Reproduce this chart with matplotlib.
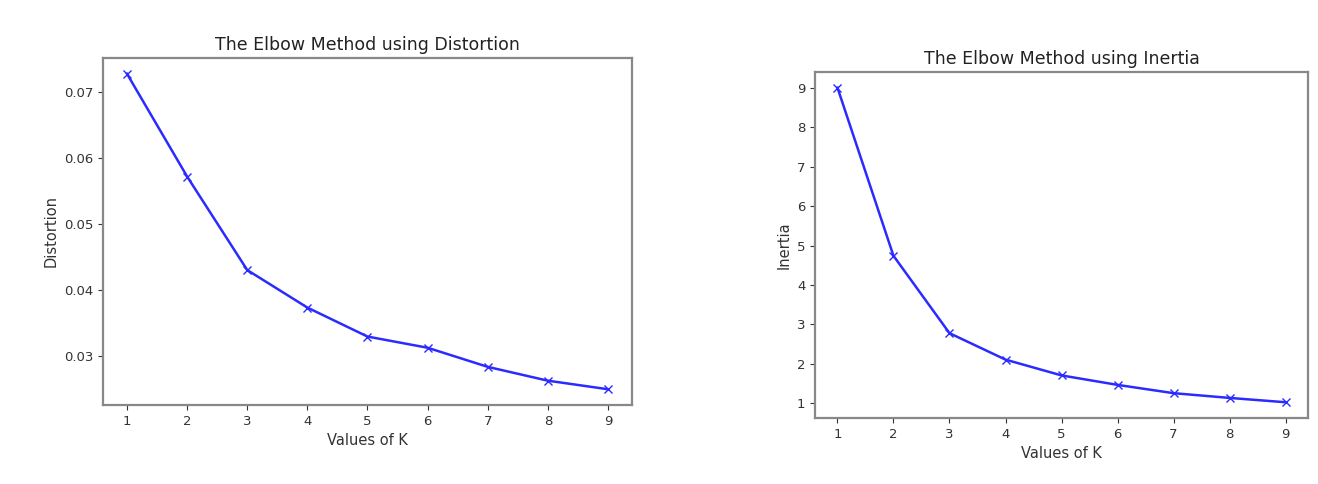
import numpy as np
import matplotlib
matplotlib.use('Agg')
import matplotlib.pyplot as plt

K = [1, 2, 3, 4, 5, 6, 7, 8, 9]
distortions = [0.0728, 0.0572, 0.0430, 0.0373, 0.0329, 0.0312, 0.0283, 0.0262, 0.0249]
inertias = [9.0, 4.74, 2.78, 2.11, 1.71, 1.47, 1.26, 1.14, 1.03]

fig = plt.figure(figsize=(13.18, 4.84), dpi=100)

ax1 = fig.add_axes([0.0781, 0.1632, 0.4014, 0.717])
ax1.plot(K, distortions, 'x-', color='#2b2bff', lw=1.8)
ax1.set_xlabel('Values of K')
ax1.set_ylabel('Distortion')
ax1.set_title('The Elbow Method using Distortion')

ax2 = fig.add_axes([0.6184, 0.1364, 0.374, 0.715])
ax2.plot(K, inertias, 'x-', color='#2b2bff', lw=1.8)
ax2.set_xlabel('Values of K')
ax2.set_ylabel('Inertia')
ax2.set_title('The Elbow Method using Inertia')

for ax in (ax1, ax2):
    ax.set_xticks(K)
    ax.tick_params(labelsize=9.5, colors='#333333')
    ax.xaxis.label.set_size(10.5)
    ax.yaxis.label.set_size(10.5)
    ax.xaxis.label.set_color('#333333')
    ax.yaxis.label.set_color('#333333')
    ax.title.set_size(12.5)
    ax.title.set_color('#222222')
    for s in ax.spines.values():
        s.set_color('#888888')
        s.set_linewidth(1.6)

fig.savefig('out.png', dpi=100)
